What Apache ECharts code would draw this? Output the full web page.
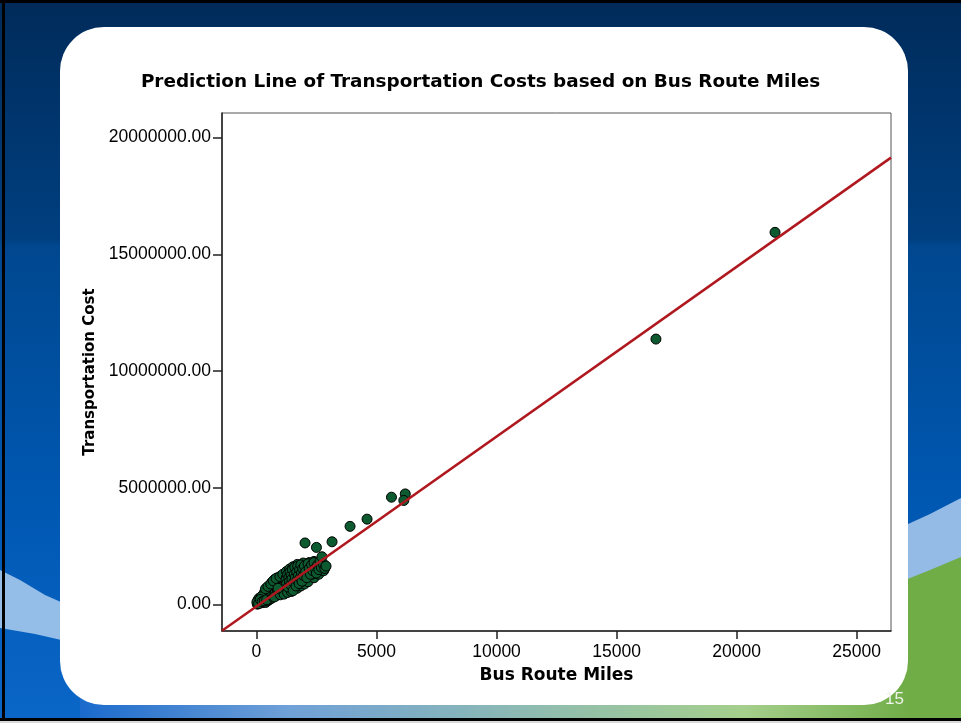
<!DOCTYPE html>
<html>
<head>
<meta charset="utf-8">
<script src="https://cdn.jsdelivr.net/npm/echarts@6/dist/echarts.min.js"></script>
<style>
html,body{margin:0;padding:0;background:#fff;}
#chart{width:961px;height:723px;}
</style>
</head>
<body>
<div id="chart"></div>
<script>
// ---- data ----
var busMiles = [
  40,80,120,150,180,200,230,260,280,300,320,350,380,400,420,450,470,500,520,550,570,600,130,250,350,420,300,500,580,60,100,200,
  20,90,160,240,330,430,
  620,650,680,700,720,750,780,800,820,850,870,900,920,950,980,1000,1020,1050,1080,1100,1120,1150,1180,1200,640,760,880,
  380,480,600,700,820,980,1100,1250,1380,1520,1700,1950,2200,2400,
  750,1000,1150,1300,1450,1700,1850,2000,2150,2400,2600,2800,
  900,1250,1400,1600,1750,2100,2300,
  1230,1260,1300,1320,1350,1380,1400,1430,1450,1480,1500,1530,1550,1580,1600,1620,1650,1680,1700,1720,1750,1780,1800,1830,1850,1880,1900,1930,1960,2000,
  2050,2100,2150,2200,2250,2300,2350,2400,2450,2500,2550,2600,2650,2700,2780,2850,2900,
  2025,2500,3150,2730,3900,4608,5625,6200,6140,16640,21600
];
var transportCost = [
  20000,90000,60000,150000,110000,200000,80000,170000,250000,120000,300000,200000,90000,350000,260000,150000,420000,310000,200000,480000,380000,250000,280000,380000,550000,620000,450000,600000,700000,180000,250000,330000,
  100000,40000,220000,130000,160000,210000,
  550000,420000,800000,320000,650000,900000,500000,750000,380000,1000000,620000,850000,450000,1050000,700000,900000,550000,1150000,800000,1000000,600000,1200000,850000,700000,950000,1080000,1150000,
  680000,780000,880000,1020000,1120000,1200000,1300000,1420000,1520000,1620000,1720000,1780000,1800000,1850000,
  330000,420000,450000,520000,560000,700000,800000,880000,980000,1150000,1300000,1450000,
  700000,1150000,950000,1250000,1400000,1500000,1300000,
  1050000,900000,1300000,750000,1150000,1000000,1400000,850000,1250000,1100000,1500000,600000,950000,1300000,1600000,1150000,800000,1400000,1050000,1650000,1250000,900000,1500000,1150000,1700000,1350000,1000000,1550000,1250000,1650000,
  1400000,1150000,1750000,1550000,1300000,1700000,1450000,1800000,1550000,1350000,1700000,1500000,1850000,1600000,1750000,1550000,1650000,
  2640000,2450000,2690000,2050000,3350000,3660000,4600000,4740000,4460000,11370000,15940000
];
var xTicks = [0, 5000, 10000, 15000, 20000, 25000];
var yTicks = [0, 5000000, 10000000, 15000000, 20000000];
var fitSlope = 727;       // prediction line: cost per route mile
var fitIntercept = -75000; // prediction line intercept
var titleText = 'Prediction Line of Transportation Costs based on Bus Route Miles';
var xName = 'Bus Route Miles';
var yName = 'Transportation Cost';
var pageNumber = '15';

// ---- axis ranges ----
var xMin = -1433, xMax = 26430;
var yMin = -1130000, yMax = 21050000;

var points = busMiles.map(function (m, i) { return [m, transportCost[i]]; });
var fitLine = [xMin, xMax].map(function (m) { return [m, fitSlope * m + fitIntercept]; });

var chart = echarts.init(document.getElementById('chart'), null, {renderer: 'canvas'});

var bg = [
  {type: 'rect', z: -100, silent: true, shape: {x: 0, y: 0, width: 961, height: 723},
   style: {fill: new echarts.graphic.LinearGradient(0, 0, 0, 1, [
     {offset: 0, color: '#002b5a'}, {offset: 0.33, color: '#003f80'},
     {offset: 0.34, color: '#00478f'}, {offset: 0.7, color: '#0058b2'}, {offset: 1, color: '#0a66c8'}])}},
  // left light band
  {type: 'polygon', z: -99, silent: true,
   shape: {points: [[0, 570], [20, 580], [45, 595], [70, 606], [70, 642], [35, 634], [0, 628]]},
   style: {fill: '#94bde8'}},
  // right light band
  {type: 'polygon', z: -99, silent: true,
   shape: {points: [[895, 530], [930, 514], [961, 498], [961, 723], [895, 723]]},
   style: {fill: '#93bbe6'}},
  // right green
  {type: 'polygon', z: -98, silent: true,
   shape: {points: [[895, 584], [930, 570], [961, 557], [961, 723], [895, 723]]},
   style: {fill: '#70ad47'}},
  // bottom strip
  {type: 'rect', z: -97, silent: true, shape: {x: 80, y: 690, width: 830, height: 30},
   style: {fill: new echarts.graphic.LinearGradient(0, 0, 1, 0, [
     {offset: 0, color: '#1a6acc'}, {offset: 0.25, color: '#6fa0d8'}, {offset: 0.55, color: '#8fbcb0'},
     {offset: 0.8, color: '#a5cf8c'}, {offset: 1, color: '#70ad47'}])}},
  // black frame
  {type: 'rect', z: -90, silent: true, shape: {x: 0, y: 0, width: 961, height: 3}, style: {fill: '#000'}},
  {type: 'rect', z: -90, silent: true, shape: {x: 2, y: 0, width: 3, height: 721}, style: {fill: '#000'}},
  {type: 'rect', z: -90, silent: true, shape: {x: 0, y: 718, width: 961, height: 3}, style: {fill: '#000'}},
  {type: 'rect', z: -90, silent: true, shape: {x: 0, y: 721, width: 961, height: 2}, style: {fill: '#d8d8d8'}},
  // white card
  {type: 'rect', z: -80, silent: true, shape: {x: 60, y: 27, width: 848, height: 678, r: 44},
   style: {fill: '#ffffff'}},
  // page number
  {type: 'text', z: 10, silent: true, x: 885, y: 691,
   style: {text: pageNumber, fill: '#eef4ea', font: '17px "Liberation Sans", Arial, sans-serif'}}
];

var option = {
  animation: false,
  backgroundColor: 'transparent',
  graphic: {elements: bg},
  title: {
    text: titleText, left: 'center', top: 68,
    textStyle: {fontFamily: 'DejaVu Sans', fontWeight: 'bold', fontSize: 18.4, color: '#000'}
  },
  grid: {left: 222, right: 70, top: 113, bottom: 92, show: true, borderColor: '#555', borderWidth: 1, backgroundColor: 'transparent'},
  xAxis: {
    type: 'value', min: xMin, max: xMax,
    name: xName, nameLocation: 'middle', nameGap: 36,
    nameTextStyle: {fontFamily: 'DejaVu Sans', fontWeight: 'bold', fontSize: 17, color: '#000'},
    axisLine: {show: true, onZero: false, lineStyle: {color: '#222', width: 1.5}},
    axisTick: {show: true, length: 8, customValues: xTicks, lineStyle: {color: '#222', width: 1.5}},
    axisLabel: {customValues: xTicks, margin: 12, fontFamily: 'Liberation Sans', fontSize: 17.5, color: '#000',
      formatter: function (v) { return String(v); }},
    splitLine: {show: false}
  },
  yAxis: {
    type: 'value', min: yMin, max: yMax,
    name: yName, nameLocation: 'middle', nameGap: 117, nameRotate: 90,
    nameTextStyle: {fontFamily: 'DejaVu Sans', fontWeight: 'bold', fontSize: 15, color: '#000'},
    axisLine: {show: true, onZero: false, lineStyle: {color: '#222', width: 1.5}},
    axisTick: {show: true, length: 9, customValues: yTicks, lineStyle: {color: '#222', width: 1.5}},
    axisLabel: {customValues: yTicks, margin: 11, fontFamily: 'Liberation Sans', fontSize: 17.5, color: '#000',
      formatter: function (v) { return v.toFixed(2); }},
    splitLine: {show: false}
  },
  series: [
    {type: 'scatter', data: points, symbol: 'circle', symbolSize: 10, z: 3,
     itemStyle: {color: '#0d5a30', borderColor: '#000', borderWidth: 1, opacity: 1}},
    {type: 'line', data: fitLine, showSymbol: false, clip: true, z: 4,
     lineStyle: {color: '#b0181f', width: 2.5}}
  ]
};
chart.setOption(option);
</script>
</body>
</html>
